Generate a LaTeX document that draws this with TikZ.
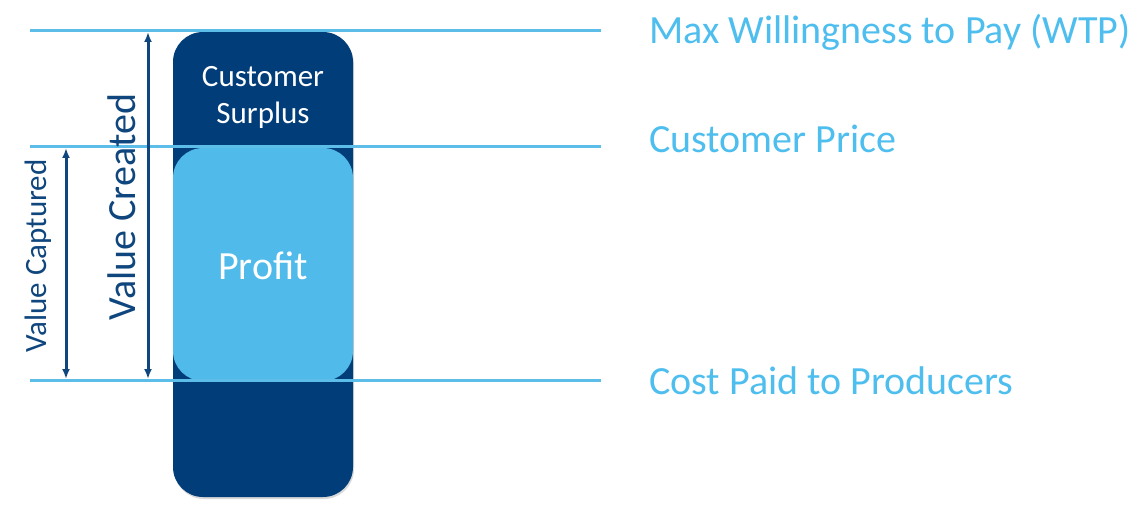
\documentclass[tikz,border=0pt]{standalone}
\usepackage{fontspec}
\setmainfont{Carlito}
\usetikzlibrary{arrows.meta,shadows}
\definecolor{dkblue}{RGB}{0,61,121}
\definecolor{ltblue}{RGB}{80,186,234}
\definecolor{lnblue}{RGB}{91,189,232}
\definecolor{txblue}{RGB}{78,190,238}
\definecolor{arblue}{RGB}{15,70,125}
\tikzset{
  dkbox/.style={fill=dkblue, rounded corners=30pt, drop shadow={shadow xshift=1pt, shadow yshift=-2pt, opacity=0.3}},
  ltbox/.style={fill=ltblue, rounded corners=30pt},
  level/.style={draw=lnblue, line width=3pt},
  lvltext/.style={anchor=west, text=txblue, font=\fontsize{40}{44}\selectfont, inner sep=0pt},
  dim/.style={draw=arblue, line width=3pt, {Latex[length=10pt,width=8pt]}-{Latex[length=10pt,width=8pt]}},
  dimtext/.style={text=arblue, rotate=90, inner sep=0pt}
}
\begin{document}
\begin{tikzpicture}[x=1pt,y=-1pt]
\useasboundingbox (0,0) rectangle (1139,505);
\path[dkbox] (173,32) rectangle (353,497);
\path[ltbox] (173,148) rectangle (353,381);
\node[text=white, font=\fontsize{31}{37}\selectfont, align=center] (cs) at (263,97) {Customer\\Surplus};
\node[text=white, font=\fontsize{40}{44}\selectfont] (pr) at (263,266) {Profit};
\coordinate (l1a) at (30,31); \coordinate (l1b) at (601,31);
\coordinate (l2a) at (30,147); \coordinate (l2b) at (601,147);
\coordinate (l3a) at (30,380); \coordinate (l3b) at (601,380);
\draw[level] (l1a) -- (l1b);
\draw[level] (l2a) -- (l2b);
\draw[level] (l3a) -- (l3b);
\node[lvltext] (wtp) at (649,32) {Max Willingness to Pay (WTP)};
\node[lvltext] (cp) at (649,139) {Customer Price};
\node[lvltext] (cost) at (649,381) {Cost Paid to Producers};
\coordinate (vc1) at (148,32); \coordinate (vc2) at (148,379);
\coordinate (va1) at (66,148); \coordinate (va2) at (66,379);
\draw[dim] (vc1) -- (vc2);
\draw[dim] (va1) -- (va2);
\node[dimtext, font=\fontsize{40}{44}\selectfont] (vct) at (122,207) {Value Created};
\node[dimtext, font=\fontsize{31}{36}\selectfont] (vat) at (38,256) {Value Captured};
\end{tikzpicture}
\end{document}
